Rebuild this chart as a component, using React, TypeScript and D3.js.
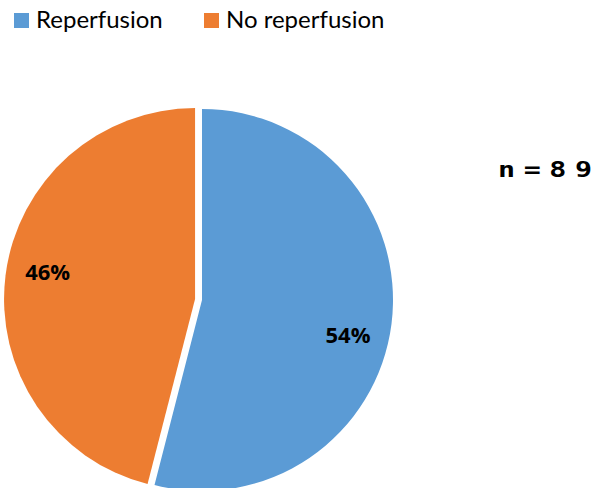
import React from "react";
import * as d3 from "d3";

const categories = ["Reperfusion", "No reperfusion"];
const values = [54, 46];
const colors = ["#5B9BD5", "#ED7D31"];
const sampleLabel = "n=89";

export default function App() {
  const width = 598;
  const height = 488;
  const r = 191;
  const cx = 202;
  const cy = 300;
  const explode = [0, 7];
  const labelShiftDeg = [6, 3.5];
  const labelR = 150;

  const pie = d3.pie<number>().sort(null).value((d) => d)(values);
  const arc = d3.arc<d3.PieArcDatum<number>>().innerRadius(0).outerRadius(r);
  const total = d3.sum(values);

  const legendX = [14, 204];
  const sx = 1.35;

  return (
    <svg width={width} height={height} style={{ position: "absolute", left: 0, top: 0 }}>
      {categories.map((c, i) => (
        <g key={c}>
          <rect x={legendX[i]} y={13} width={15} height={15} fill={colors[i]} />
          <text x={legendX[i] + 22} y={28} fontFamily="Lato, 'Open Sans', sans-serif" fontSize={24} fill="#000">
            {c}
          </text>
        </g>
      ))}
      {pie.map((p, i) => {
        const mid = (p.startAngle + p.endAngle) / 2;
        const dx = Math.sin(mid) * explode[i];
        const dy = -Math.cos(mid) * explode[i];
        const la = mid + (labelShiftDeg[i] * Math.PI) / 180;
        const lx = Math.sin(la) * labelR;
        const ly = -Math.cos(la) * labelR;
        return (
          <g key={i} transform={`translate(${cx + dx},${cy + dy})`}>
            <path d={arc(p) || ""} fill={colors[i]} />
            <text
              x={lx}
              y={ly}
              textAnchor="middle"
              dominantBaseline="central"
              fontFamily="'Open Sans', Lato, sans-serif"
              fontWeight="bold"
              fontSize={22}
              fill="#000"
            >
              {`${Math.round((values[i] / total) * 100)}%`}
            </text>
          </g>
        );
      })}
      <g transform={`translate(498,177) scale(${sx},1)`}>
        <text
          x={0}
          y={0}
          fontFamily="'DejaVu Sans Mono', monospace"
          fontWeight="bold"
          fontSize={21}
          textLength={94 / sx}
          lengthAdjust="spacing"
          fill="#000"
        >
          {sampleLabel}
        </text>
      </g>
    </svg>
  );
}
